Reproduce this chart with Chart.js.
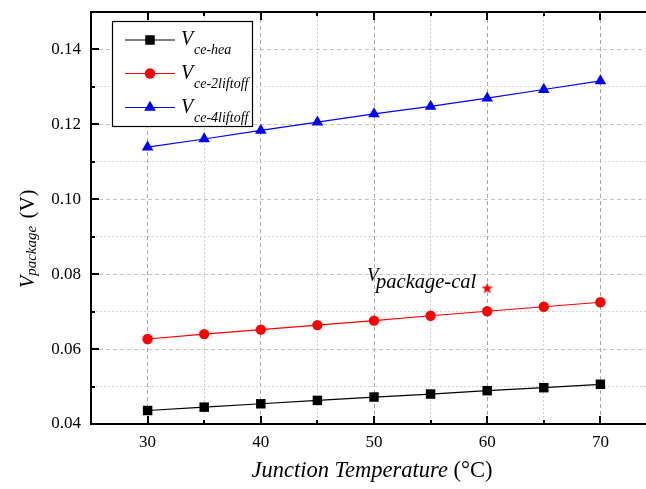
<!DOCTYPE html>
<html>
<head>
<meta charset="utf-8">
<script src="https://cdn.jsdelivr.net/npm/chart.js@4/dist/chart.umd.min.js"></script>
<style>
html, body { margin: 0; padding: 0; background: #fff; overflow: hidden; }
canvas { display: block; }
</style>
</head>
<body>
<canvas id="chart" width="670" height="489"></canvas>
<script>
// data
const temps = [30, 35, 40, 45, 50, 55, 60, 65, 70]
const vceHea = [0.0436, 0.0445, 0.0454, 0.0463, 0.0472, 0.0480, 0.0489, 0.0497, 0.0506]
const vce2Liftoff = [0.0627, 0.0640, 0.0652, 0.0664, 0.0676, 0.0689, 0.0701, 0.0713, 0.0725]
const vce4Liftoff = [0.1139, 0.1161, 0.1184, 0.1206, 0.1228, 0.1248, 0.1270, 0.1293, 0.1316]
const calTemp = [60]
const calValue = [0.0763]

const xLabels = [30, 40, 50, 60, 70]
const yLabels = ['0.04', '0.06', '0.08', '0.10', '0.12', '0.14']

const legendNames = [['V', 'ce-hea'], ['V', 'ce-2liftoff'], ['V', 'ce-4liftoff']]

const SERIF = '"Liberation Serif", "Times New Roman", serif'

const pairs = (xs, ys) => xs.map((x, i) => ({x: x, y: ys[i]}))
const isXMajor = v => xLabels.includes(Math.round(v))
const isYMajor = v => yLabels.includes(v.toFixed(2))

// five pointed star used as the marker of the calculated value
const starImg = document.createElement('canvas')
starImg.width = 13
starImg.height = 13
const sctx = starImg.getContext('2d')
sctx.fillStyle = '#ff0000'
sctx.beginPath()
for (let i = 0; i < 10; i++) {
    const r = i % 2 === 0 ? 6 : 2.4
    const a = -Math.PI / 2 + i * Math.PI / 5
    sctx.lineTo(6.5 + r * Math.cos(a), 7 + r * Math.sin(a))
}
sctx.closePath()
sctx.fill()

function marker(ctx, style, x, y, color) {
    ctx.fillStyle = color
    ctx.beginPath()
    if (style === 'rect') {
        ctx.rect(x - 4.75, y - 4.75, 9.5, 9.5)
    } else if (style === 'circle') {
        ctx.arc(x, y, 5.2, 0, Math.PI * 2)
    } else {
        const r = 6.7
        ctx.moveTo(x, y - r)
        ctx.lineTo(x + r * 0.866, y + r / 2)
        ctx.lineTo(x - r * 0.866, y + r / 2)
        ctx.closePath()
    }
    ctx.fill()
}

const decorations = {
    id: 'decorations',
    afterDraw(chart) {
        const {ctx, chartArea: a, scales: {x, y}} = chart
        ctx.save()

        // top / right frame
        ctx.strokeStyle = '#000'
        ctx.lineWidth = 2
        ctx.beginPath()
        ctx.moveTo(a.left - 1, a.top)
        ctx.lineTo(a.right, a.top)
        ctx.lineTo(a.right, a.bottom)
        ctx.stroke()

        // inward ticks
        ctx.beginPath()
        x.ticks.forEach(t => {
            if (t.value <= x.min || t.value >= x.max) return
            const px = Math.round(x.getPixelForValue(t.value))
            const len = isXMajor(t.value) ? 8 : 4
            ctx.moveTo(px, a.bottom)
            ctx.lineTo(px, a.bottom - len)
            ctx.moveTo(px, a.top)
            ctx.lineTo(px, a.top + len)
        })
        y.ticks.forEach(t => {
            if (t.value <= y.min + 1e-9 || t.value >= y.max - 1e-9) return
            const py = Math.round(y.getPixelForValue(t.value))
            const len = isYMajor(t.value) ? 8 : 4
            ctx.moveTo(a.left, py)
            ctx.lineTo(a.left + len, py)
        })
        ctx.stroke()

        // legend
        const lx = 112.5, ly = 21.5, lw = 140, lh = 105
        ctx.fillStyle = '#fff'
        ctx.fillRect(lx, ly, lw, lh)
        ctx.lineWidth = 1.2
        ctx.strokeStyle = '#000'
        ctx.strokeRect(lx, ly, lw, lh)
        const rows = [40, 73.5, 107.5]
        chart.data.datasets.slice(0, 3).forEach((ds, i) => {
            const ry = rows[i]
            ctx.strokeStyle = ds.borderColor
            ctx.lineWidth = 1.2
            ctx.beginPath()
            ctx.moveTo(125, ry)
            ctx.lineTo(175, ry)
            ctx.stroke()
            marker(ctx, ds.pointStyle, 150, ry, ds.pointBackgroundColor)
            ctx.fillStyle = '#000'
            ctx.textAlign = 'left'
            ctx.textBaseline = 'alphabetic'
            ctx.font = 'italic 20px ' + SERIF
            ctx.fillText(legendNames[i][0], 181, ry + 5)
            ctx.font = 'italic 14px ' + SERIF
            ctx.fillText(legendNames[i][1], 194, ry + 14)
        })

        // annotation next to the star
        const sx = x.getPixelForValue(calTemp[0])
        const sy = y.getPixelForValue(calValue[0])
        ctx.fillStyle = '#000'
        ctx.font = 'italic 20.5px ' + SERIF
        const subW = ctx.measureText('package-cal').width
        ctx.fillText('package-cal', sx - 11 - subW, sy)
        ctx.font = 'italic 19px ' + SERIF
        ctx.fillText('V', sx - 11 - subW - 9, sy - 7)

        // x title
        ctx.font = 'italic 22.5px ' + SERIF
        const t1 = 'Junction Temperature'
        const w1 = ctx.measureText(t1).width
        ctx.font = '22.5px ' + SERIF
        const t2 = ' (\u00B0C)'
        const w2 = ctx.measureText(t2).width
        const cx = (a.left + a.right) / 2 - 2
        ctx.font = 'italic 22.5px ' + SERIF
        ctx.fillText(t1, cx - (w1 + w2) / 2, 477)
        ctx.font = '22.5px ' + SERIF
        ctx.fillText(t2, cx - (w1 + w2) / 2 + w1, 477)

        // y title
        ctx.translate(34, 288)
        ctx.rotate(-Math.PI / 2)
        ctx.font = 'italic 20px ' + SERIF
        ctx.fillText('V', 0, 0)
        let off = ctx.measureText('V').width
        ctx.font = 'italic 15px ' + SERIF
        ctx.fillText('package', off, 2)
        off += ctx.measureText('package').width + 2
        ctx.font = '21px ' + SERIF
        ctx.fillText(' (V)', off, 0)

        ctx.restore()
    }
}

new Chart(document.getElementById('chart'), {
    type: 'line',
    data: {
        datasets: [
            {
                label: 'Vce-hea',
                data: pairs(temps, vceHea),
                borderColor: '#000000',
                backgroundColor: '#000000',
                pointBackgroundColor: '#000000',
                pointStyle: 'rect',
                pointRadius: 6.7,
                borderWidth: 1.2,
                pointBorderWidth: 0
            },
            {
                label: 'Vce-2liftoff',
                data: pairs(temps, vce2Liftoff),
                borderColor: '#ff0000',
                backgroundColor: '#ff0000',
                pointBackgroundColor: '#ff0000',
                pointStyle: 'circle',
                pointRadius: 5.2,
                borderWidth: 1.2,
                pointBorderWidth: 0
            },
            {
                label: 'Vce-4liftoff',
                data: pairs(temps, vce4Liftoff),
                borderColor: '#0000ff',
                backgroundColor: '#0000ff',
                pointBackgroundColor: '#0000ff',
                pointStyle: 'triangle',
                pointRadius: 6.7,
                borderWidth: 1.2,
                pointBorderWidth: 0
            },
            {
                label: 'Vpackage-cal',
                data: pairs(calTemp, calValue),
                showLine: false,
                pointStyle: starImg,
                pointRadius: 6
            }
        ]
    },
    options: {
        responsive: false,
        animation: false,
        devicePixelRatio: 1,
        layout: {padding: {top: 12, right: 13, left: 0, bottom: 0}},
        elements: {line: {tension: 0}},
        plugins: {legend: {display: false}, tooltip: {enabled: false}},
        scales: {
            x: {
                type: 'linear',
                min: 25,
                max: 75,
                afterFit: s => { s.height = 65; s.paddingLeft = 0; s.paddingRight = 0 },
                ticks: {
                    stepSize: 5,
                    autoSkip: false,
                    maxRotation: 0,
                    padding: 8,
                    color: '#000',
                    font: {family: SERIF, size: 17},
                    callback: v => isXMajor(v) && v >= 30 && v <= 70 ? String(v) : ''
                },
                grid: {
                    drawTicks: false,
                    lineWidth: 1,
                    color: c => (c.tick && (c.tick.value <= 25 || c.tick.value >= 75)) ? 'rgba(0,0,0,0)'
                        : (c.tick && isXMajor(c.tick.value) ? '#a8a8a8' : '#cfcfcf')
                },
                border: {
                    display: true,
                    width: 2,
                    color: '#000',
                    dash: c => c.tick ? (isXMajor(c.tick.value) ? [4, 3] : [2, 2]) : []
                }
            },
            y: {
                min: 0.04,
                max: 0.15,
                afterFit: s => { s.width = 91; s.paddingTop = 0; s.paddingBottom = 0 },
                ticks: {
                    stepSize: 0.01,
                    autoSkip: false,
                    padding: 10,
                    color: '#000',
                    font: {family: SERIF, size: 17},
                    callback: v => isYMajor(v) ? v.toFixed(2) : ''
                },
                grid: {
                    drawTicks: false,
                    lineWidth: 1,
                    color: c => (c.tick && (c.tick.value <= 0.0401 || c.tick.value >= 0.1499)) ? 'rgba(0,0,0,0)'
                        : (c.tick && isYMajor(c.tick.value) ? '#c4c4c4' : '#d4d4d4')
                },
                border: {
                    display: true,
                    width: 2,
                    color: '#000',
                    dash: c => c.tick ? (isYMajor(c.tick.value) ? [4, 3] : [2, 2]) : []
                }
            }
        }
    },
    plugins: [decorations]
})
</script>
</body>
</html>
